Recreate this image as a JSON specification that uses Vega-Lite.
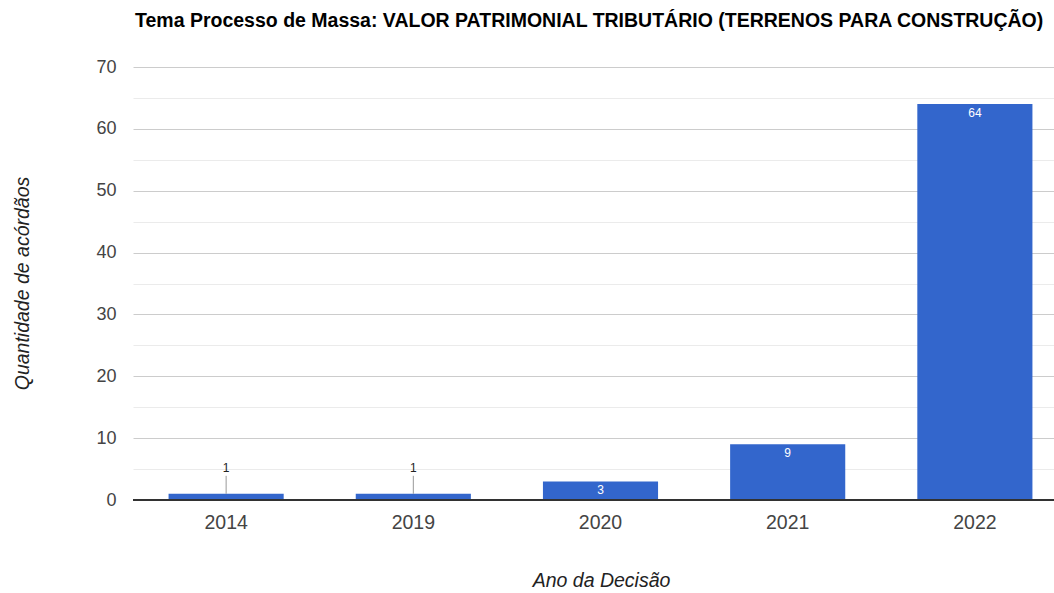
{
  "$schema": "https://vega.github.io/schema/vega-lite/v6.json",
  "autosize": {"type": "none"},
  "padding": {"left": 133, "top": 67, "right": 0, "bottom": 93},
  "width": 935,
  "height": 433,
  "background": "white",
  "config": {"view": {"stroke": null}, "font": "Liberation Sans"},
  "title": {
    "text": "Tema Processo de Massa: VALOR PATRIMONIAL TRIBUTÁRIO (TERRENOS PARA CONSTRUÇÃO)",
    "anchor": "start",
    "frame": "group",
    "dx": 2,
    "offset": 27,
    "fontSize": 19.5,
    "fontWeight": "bold",
    "color": "#000000",
    "font": "Liberation Sans"
  },
  "data": {
    "values": [
      {"ano": "2014", "n": 1},
      {"ano": "2019", "n": 1},
      {"ano": "2020", "n": 3},
      {"ano": "2021", "n": 9},
      {"ano": "2022", "n": 64}
    ]
  },
  "encoding": {
    "x": {
      "field": "ano",
      "type": "nominal",
      "sort": null,
      "scale": {"paddingInner": 0.385, "paddingOuter": 0.19},
      "axis": {
        "title": "Ano da Decisão",
        "titleFontStyle": "italic",
        "titleFontWeight": "normal",
        "titleFontSize": 19.5,
        "titleColor": "#222222",
        "titleX": 468,
        "titleY": 80,
        "titleBaseline": "middle",
        "labelAngle": 0,
        "labelFontSize": 19.5,
        "labelColor": "#444444",
        "labelPadding": 13,
        "domain": false,
        "ticks": false,
        "grid": false
      }
    },
    "y": {
      "field": "n",
      "type": "quantitative",
      "scale": {"domain": [0, 70], "nice": false},
      "axis": {
        "title": "Quantidade de acórdãos",
        "titleFontStyle": "italic",
        "titleFontWeight": "normal",
        "titleFontSize": 19.5,
        "titleColor": "#222222",
        "titleX": -111,
        "titleY": 216,
        "titleBaseline": "middle",
        "titleAngle": -90,
        "values": [0, 5, 10, 15, 20, 25, 30, 35, 40, 45, 50, 55, 60, 65, 70],
        "labelExpr": "datum.value % 10 === 0 ? datum.label : ''",
        "labelFontSize": 18,
        "labelColor": "#444444",
        "labelPadding": 17,
        "domain": false,
        "ticks": false,
        "grid": true,
        "gridColor": {"condition": {"test": "datum.value % 10 === 0", "value": "#cccccc"}, "value": "#ebebeb"},
        "gridWidth": 1
      }
    }
  },
  "layer": [
    {"mark": {"type": "bar", "color": "#3366cc"}},
    {
      "mark": {"type": "rule", "color": "#333333", "strokeWidth": 1.5},
      "encoding": {"y": {"datum": 0}, "x": {"value": 0}, "x2": {"value": 935}}
    },
    {
      "transform": [{"filter": "datum.n >= 3"}],
      "mark": {"type": "text", "color": "#ffffff", "fontSize": 12, "baseline": "top", "dy": 4},
      "encoding": {"text": {"field": "n"}}
    },
    {
      "transform": [{"filter": "datum.n < 3"}],
      "mark": {"type": "rule", "color": "#999999", "strokeWidth": 1, "y2Offset": -18},
      "encoding": {"y2": {"field": "n"}}
    },
    {
      "transform": [{"filter": "datum.n < 3"}],
      "mark": {"type": "text", "color": "#222222", "fontSize": 12, "baseline": "bottom", "dy": -19},
      "encoding": {"text": {"field": "n"}}
    }
  ]
}
